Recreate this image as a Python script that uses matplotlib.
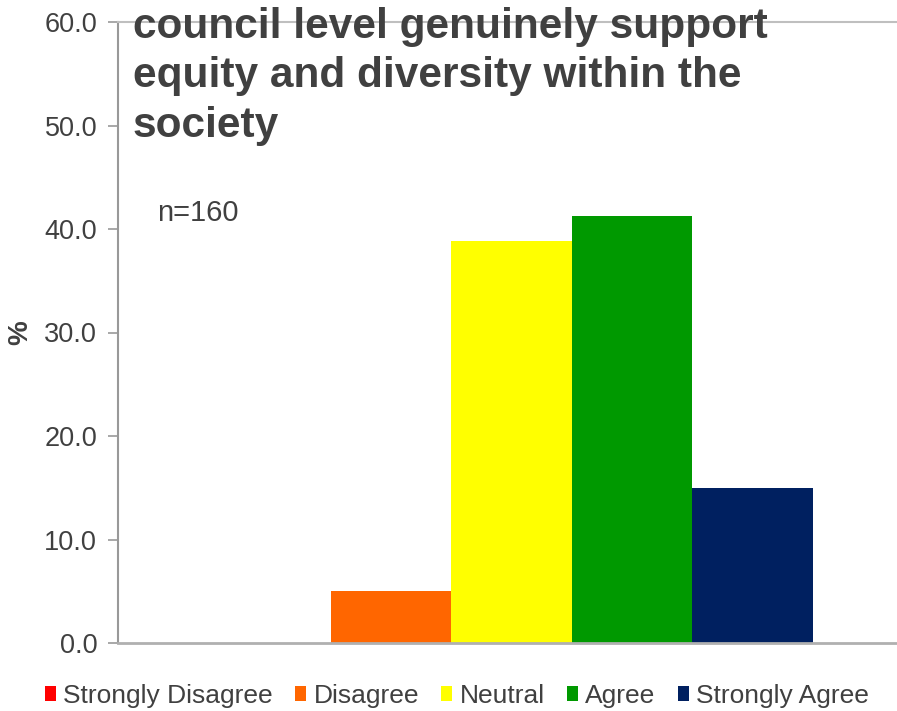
import matplotlib.pyplot as plt
import numpy as np

plt.rcParams['font.family'] = ['Liberation Sans', 'DejaVu Sans']

# responses (n=160), percent of respondents
categories = ['Strongly Disagree', 'Disagree', 'Neutral', 'Agree', 'Strongly Agree']
values = [0.0, 5.0, 38.8, 41.3, 15.0]
colors = ['#FF0000', '#FF6600', '#FFFF00', '#009900', '#002060']
yticks = [0, 10, 20, 30, 40, 50, 60]

text_col = '#404040'

fig = plt.figure(figsize=(8.97, 7.11), dpi=100)
# plot area reaches the right edge of the picture
ax = fig.add_axes([118 / 897, 68 / 711, 779 / 897, 621 / 711])

x = np.arange(len(categories))
bars = []
for i in range(len(categories)):
    b = ax.bar(x[i], values[i], width=1.0, color=colors[i], label=categories[i], zorder=2)
    bars.append(b)

ax.set_xlim(-1.266, 5.2)
ax.set_ylim(0, 60)
ax.set_yticks(yticks)
ax.set_yticklabels([f"{t:.1f}" for t in yticks], fontsize=19.5, color=text_col)
ax.set_xticks([])
ax.tick_params(axis='y', direction='out', length=7, width=1.2, color='#999999', pad=8)

ax.spines['right'].set_visible(False)
ax.spines['left'].set_color('#999999')
ax.spines['left'].set_linewidth(1.5)
ax.spines['bottom'].set_color('#B0B0B0')
ax.spines['bottom'].set_linewidth(2)
ax.spines['top'].set_color('#BFBFBF')
ax.spines['top'].set_linewidth(1.5)

ax.set_ylabel('%', fontsize=20, fontweight='bold', color=text_col, labelpad=8)

fig.text(157 / 897, 1 - 213 / 711, 'n=160', fontsize=21,
         color=text_col, va='center', ha='left')

fig.text(133 / 897, 1 - 7 / 711,
         'council level genuinely support\nequity and diversity within the\nsociety',
         fontsize=30.5, fontweight='bold', color=text_col, va='top', ha='left',
         linespacing=1.3, zorder=5)

fig.legend(handles=[b[0] for b in bars], labels=categories, loc='center',
           bbox_to_anchor=(457 / 897, 1 - 696 / 711), ncol=5, frameon=False,
           fontsize=19, handlelength=0.42, handleheight=0.5, handletextpad=0.27,
           columnspacing=0.85, labelcolor=text_col)

plt.savefig('out.png', dpi=100)
